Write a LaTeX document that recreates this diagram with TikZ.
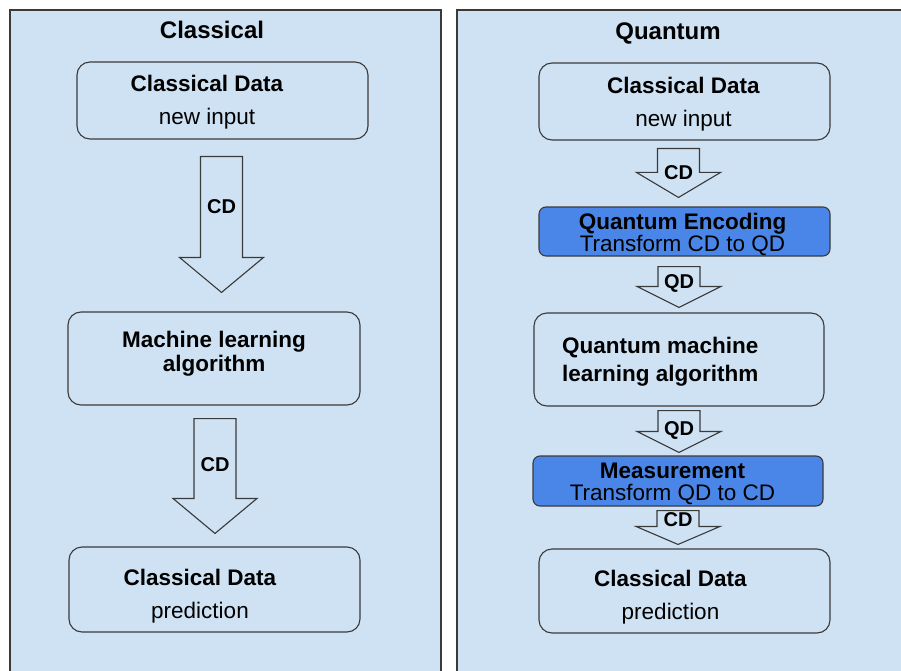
\documentclass[tikz,border=0pt]{standalone}
\usepackage{fontspec}
\setmainfont{Liberation Sans}
\usepackage{xcolor}
\usetikzlibrary{calc}

\definecolor{panelblue}{HTML}{CFE2F3}
\definecolor{encblue}{HTML}{4A86E8}
\definecolor{edgegray}{HTML}{3A3A3A}

% block arrow between two boxes: name, from, to, xshift, top gap, tip gap, head length
\newcommand{\fatarrow}[7]{%
  \draw[fatarr] let \p1=([xshift=#4]#2.south), \p2=(#3.north) in
    (\x1-21,\y1-#5) -- (\x1+21,\y1-#5) -- (\x1+21,\y2+#6+#7) -- (\x1+42,\y2+#6+#7)
    -- (\x1,\y2+#6) -- (\x1-42,\y2+#6+#7) -- (\x1-21,\y2+#6+#7) -- cycle
    (\x1,\y2+#6+#7) coordinate (#1);
}

\begin{document}
\begin{tikzpicture}[x=1pt,y=1pt,
    panel/.style={draw=edgegray, fill=panelblue, line width=1.2pt},
    box/.style={draw=edgegray, fill=panelblue, line width=1.1pt, rounded corners=13pt,
        minimum width=291pt, inner sep=0pt},
    bluebox/.style={box, fill=encblue, rounded corners=7pt},
    title/.style={font=\bfseries\fontsize{24}{28}\selectfont, inner sep=0pt},
    boxtext/.style={inner sep=0pt, align=center, font=\fontsize{22.5}{33}\selectfont},
    bluetext/.style={boxtext, font=\fontsize{22.5}{22}\selectfont},
    mltext/.style={inner sep=0pt, font=\bfseries\fontsize{22.5}{24}\selectfont},
    arrlbl/.style={font=\bfseries\fontsize{20}{24}\selectfont, inner sep=0pt},
    fatarr/.style={draw=edgegray, fill=panelblue, line width=1.1pt}
]
\useasboundingbox (0,0) rectangle (901,-671);
\clip (0,0) rectangle (901,-671);
\fill[white] (0,0) rectangle (901,-671);

% panels
\draw[panel] (10,-10) rectangle (441,-700);
\draw[panel] (457,-10) rectangle (920,-700);

% classical side
\node[title] (ctitle) at (212,-30) {Classical};
\node[box, minimum height=77pt] (cin) at (222.5,-100.5) {};
\node[boxtext] (cintext) at ([shift={(-15.5,-2)}]cin) {\textbf{Classical Data}\\new input};
\node[box, minimum width=292pt, minimum height=93pt] (ml) at (214,-358.5) {};
\node[mltext, align=center] (mltxt) at (214,-354) {Machine learning\\algorithm};
\node[box, minimum height=85pt] (cout) at (214.5,-589.5) {};
\node[boxtext] (couttext) at ([shift={(-14.5,-6.5)}]cout) {\textbf{Classical Data}\\prediction};

\fatarrow{ca1}{cin}{ml}{-1pt}{17}{19}{35}
\fatarrow{ca2}{ml}{cout}{1pt}{13}{13}{35}
\node[arrlbl] at ([yshift=51pt]ca1) {CD};
\node[arrlbl] at ([yshift=34pt]ca2) {CD};

% quantum side
\node[title] (qtitle) at (668,-33) {Quantum};
\node[box, minimum height=77pt] (qin) at (684.5,-101.5) {};
\node[boxtext] (qintext) at ([shift={(-1,-2.5)}]qin) {\textbf{Classical Data}\\new input};
\node[bluebox, minimum height=49pt] (enc) at (684.5,-231.5) {};
\node[bluetext] (enctext) at ([shift={(-2,-2.5)}]enc) {\textbf{Quantum Encoding}\\Transform CD to QD};
\node[box, minimum width=290pt, minimum height=93pt] (qml) at (679,-359.5) {};
\node[mltext, align=left, anchor=west, font=\bfseries\fontsize{22.5}{28}\selectfont] (qmltxt) at (562,-362) {Quantum machine\\learning algorithm};
\node[bluebox, minimum width=290pt, minimum height=50pt] (meas) at (678,-481) {};
\node[bluetext] (meastext) at ([shift={(-5.5,-3)}]meas) {\textbf{Measurement}\\Transform QD to CD};
\node[box, minimum height=84pt] (qout) at (684.5,-591) {};
\node[boxtext] (qouttext) at ([shift={(-14,-6.5)}]qout) {\textbf{Classical Data}\\prediction};

\fatarrow{qa1}{qin}{enc}{-6pt}{8}{9}{25}
\fatarrow{qa2}{enc}{qml}{-5.5pt}{10}{5}{21}
\fatarrow{qa3}{qml}{meas}{0pt}{4}{3}{21}
\fatarrow{qa4}{meas}{qout}{0pt}{4}{4}{18}
\node[arrlbl] at (qa1) {CD};
\node[arrlbl] at ([yshift=3pt]qa2) {QD};
\node[arrlbl] at ([yshift=1pt]qa3) {QD};
\node[arrlbl] at ([yshift=7pt]qa4) {CD};
\end{tikzpicture}
\end{document}
